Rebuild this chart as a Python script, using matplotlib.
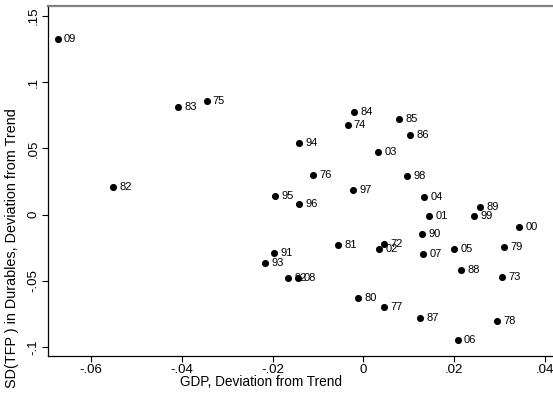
"""
Scatter of durables TFP deviation against GDP deviation, labelled by year.
"""
import matplotlib
matplotlib.use("Agg")
import matplotlib.pyplot as plt

OUTPUT = "out.png"
W, H = 553, 393

# Year labels (two-digit) with GDP and SD(TFP) deviations
years = ["09", "83", "75", "82", "84", "74", "85", "86", "94", "03",
         "76", "98", "97", "95", "04", "96", "89", "01", "99", "00",
         "90", "81", "72", "02", "07", "05", "79", "91", "93", "92",
         "08", "88", "73", "80", "77", "87", "78", "06"]
gdp_dev = [-0.0673, -0.0408, -0.0345, -0.0551, -0.0020, -0.0035, 0.0078, 0.0103, -0.0141, 0.0033,
           -0.0111, 0.0096, -0.0023, -0.0194, 0.0134, -0.0142, 0.0257, 0.0145, 0.0244, 0.0342,
           0.0129, -0.0055, 0.0045, 0.0035, 0.0131, 0.0200, 0.0310, -0.0196, -0.0216, -0.0166,
           -0.0145, 0.0215, 0.0305, -0.0011, 0.0046, 0.0124, 0.0294, 0.0207]
tfp_dev = [0.1326, 0.0813, 0.0856, 0.0208, 0.0775, 0.0674, 0.0722, 0.0601, 0.0543, 0.0475,
           0.0299, 0.0292, 0.0186, 0.0140, 0.0135, 0.0080, 0.0060, -0.0008, -0.0008, -0.0096,
           -0.0147, -0.0232, -0.0220, -0.0262, -0.0298, -0.0260, -0.0242, -0.0288, -0.0366, -0.0477,
           -0.0477, -0.0418, -0.0469, -0.0628, -0.0700, -0.0781, -0.0801, -0.0945]

x_ticks = [-0.06, -0.04, -0.02, 0, 0.02, 0.04]
x_tick_labels = ["-.06", "-.04", "-.02", "0", ".02", ".04"]
y_ticks = [-0.1, -0.05, 0, 0.05, 0.1, 0.15]
y_tick_labels = ["-.1", "-.05", "0", ".05", ".1", ".15"]

plt.rcParams["font.family"] = ["Liberation Sans", "DejaVu Sans"]

fig = plt.figure(figsize=(W / 100, H / 100), dpi=100)
ax = fig.add_axes([48 / W, 1 - 356 / H, 1 - 48 / W, 350 / H])

ax.scatter(gdp_dev, tfp_dev, s=26, color="black", zorder=3, linewidths=0)
for yr, x, y in zip(years, gdp_dev, tfp_dev):
    ax.annotate(yr, (x, y), xytext=(4.5, 0), textcoords="offset points",
                ha="left", va="center", fontsize=8, color="black")

ax.set_xlim(-0.0694, 0.0417)
ax.set_ylim(-0.1068, 0.1576)

ax.set_xticks(x_ticks)
ax.set_xticklabels(x_tick_labels)
ax.set_yticks(y_ticks)
ax.set_yticklabels(y_tick_labels, rotation=90, va="center")
ax.tick_params(direction="out", length=4, width=0.8, labelsize=9.5, pad=2)

# axis titles sit off-centre in the (cropped) original, so place them by hand
fig.text(261 / W, 1 - 382 / H, "GDP, Deviation from Trend",
         ha="center", va="center", fontsize=9.8)
fig.text(12 / W, 1 - 248 / H, "SD(TFP ) in Durables, Deviation from Trend",
         ha="center", va="center", rotation=90, fontsize=10.4)

ax.spines["right"].set_visible(False)
ax.spines["top"].set_color("#808080")
ax.spines["top"].set_linewidth(1.6)
ax.spines["left"].set_linewidth(0.9)
ax.spines["bottom"].set_linewidth(0.9)

fig.savefig(OUTPUT, dpi=100)
print(f"Saved {OUTPUT}")
